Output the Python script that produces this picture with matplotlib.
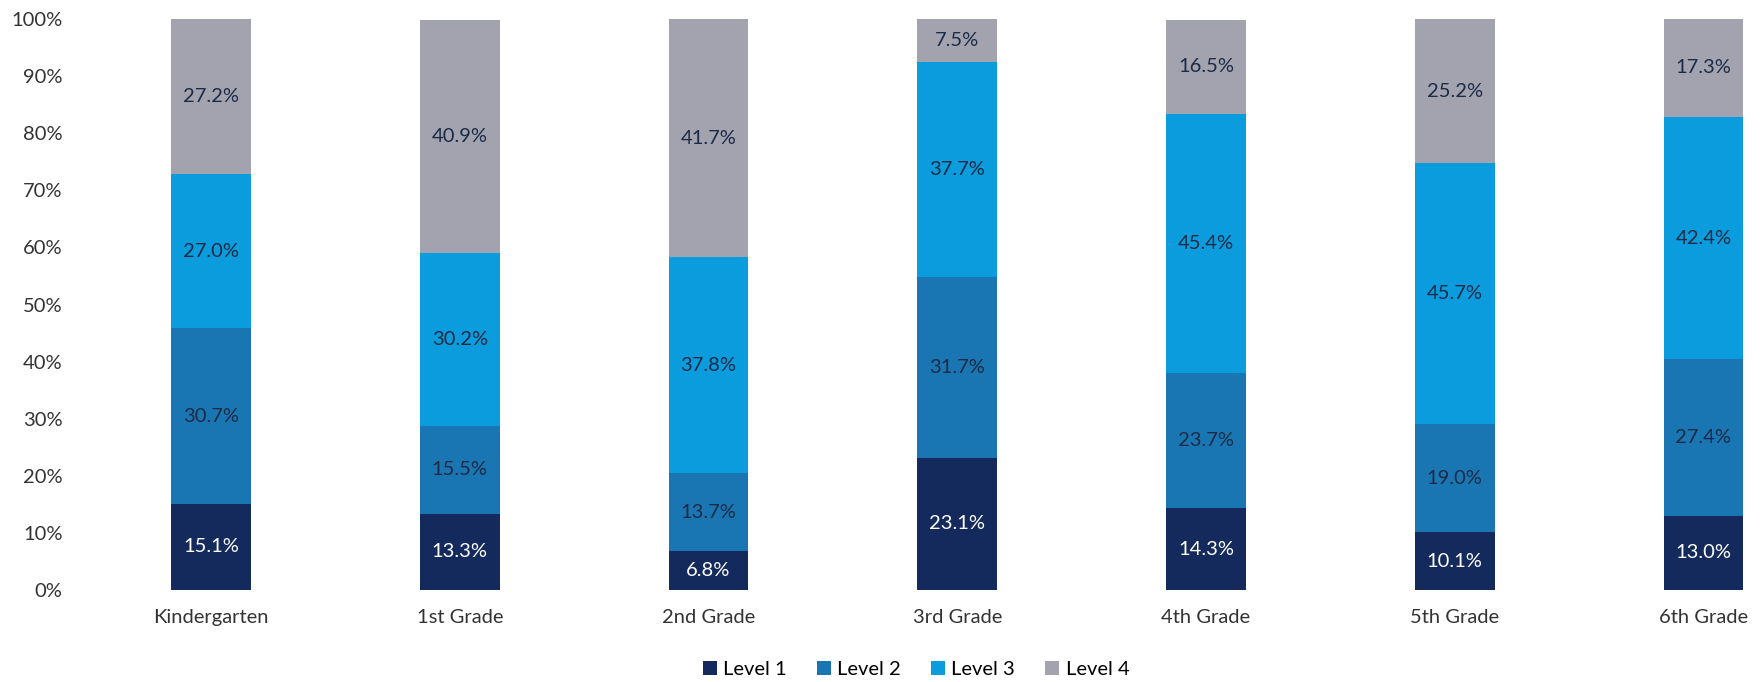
import numpy as np
import matplotlib.pyplot as plt

plt.rcParams['font.family'] = ['Lato', 'DejaVu Sans']

grades = ['Kindergarten', '1st Grade', '2nd Grade', '3rd Grade', '4th Grade', '5th Grade', '6th Grade']
level1 = [15.1, 13.3, 6.8, 23.1, 14.3, 10.1, 13.0]
level2 = [30.7, 15.5, 13.7, 31.7, 23.7, 19.0, 27.4]
level3 = [27.0, 30.2, 37.8, 37.7, 45.4, 45.7, 42.4]
level4 = [27.2, 40.9, 41.7, 7.5, 16.5, 25.2, 17.3]
levels = ['Level 1', 'Level 2', 'Level 3', 'Level 4']

colors = ['#142a5c', '#1a76b3', '#0a9cdc', '#a3a3b0']
text_colors = ['white', '#1c2b45', '#1c2b45', '#1c2b45']

fig = plt.figure(figsize=(17.62, 6.82), dpi=100)
ax = fig.add_axes([0.045, 0.135, 0.95, 0.837])

x = np.arange(len(grades))
bottom = np.zeros(len(grades))
for name, vals, c, tc in zip(levels, [level1, level2, level3, level4], colors, text_colors):
    vals = np.array(vals)
    ax.bar(x, vals, width=0.32, bottom=bottom, color=c, label=name)
    for xi, b, v in zip(x, bottom, vals):
        ax.text(xi, b + v / 2, f'{v:.1f}%', ha='center', va='center', fontsize=14.5, color=tc)
    bottom += vals

ax.set_ylim(0, 100)
ax.set_xlim(-0.53, 6.2)
ax.set_yticks(np.arange(0, 101, 10))
ax.set_yticklabels([f'{t}%' for t in range(0, 101, 10)], fontsize=14.5, color='#333333')
ax.set_xticks(x)
ax.set_xticklabels(grades, fontsize=14.5, color='#333333')
ax.tick_params(axis='both', length=0)
ax.tick_params(axis='x', pad=14)
ax.tick_params(axis='y', pad=12)
for s in ax.spines.values():
    s.set_visible(False)

ax.legend(loc='center', bbox_to_anchor=(0.5, -0.14), ncol=4, frameon=False,
          fontsize=14.5, handlelength=0.7, handleheight=0.7, handletextpad=0.3, columnspacing=1.5)

fig.savefig('out.png', dpi=100)
